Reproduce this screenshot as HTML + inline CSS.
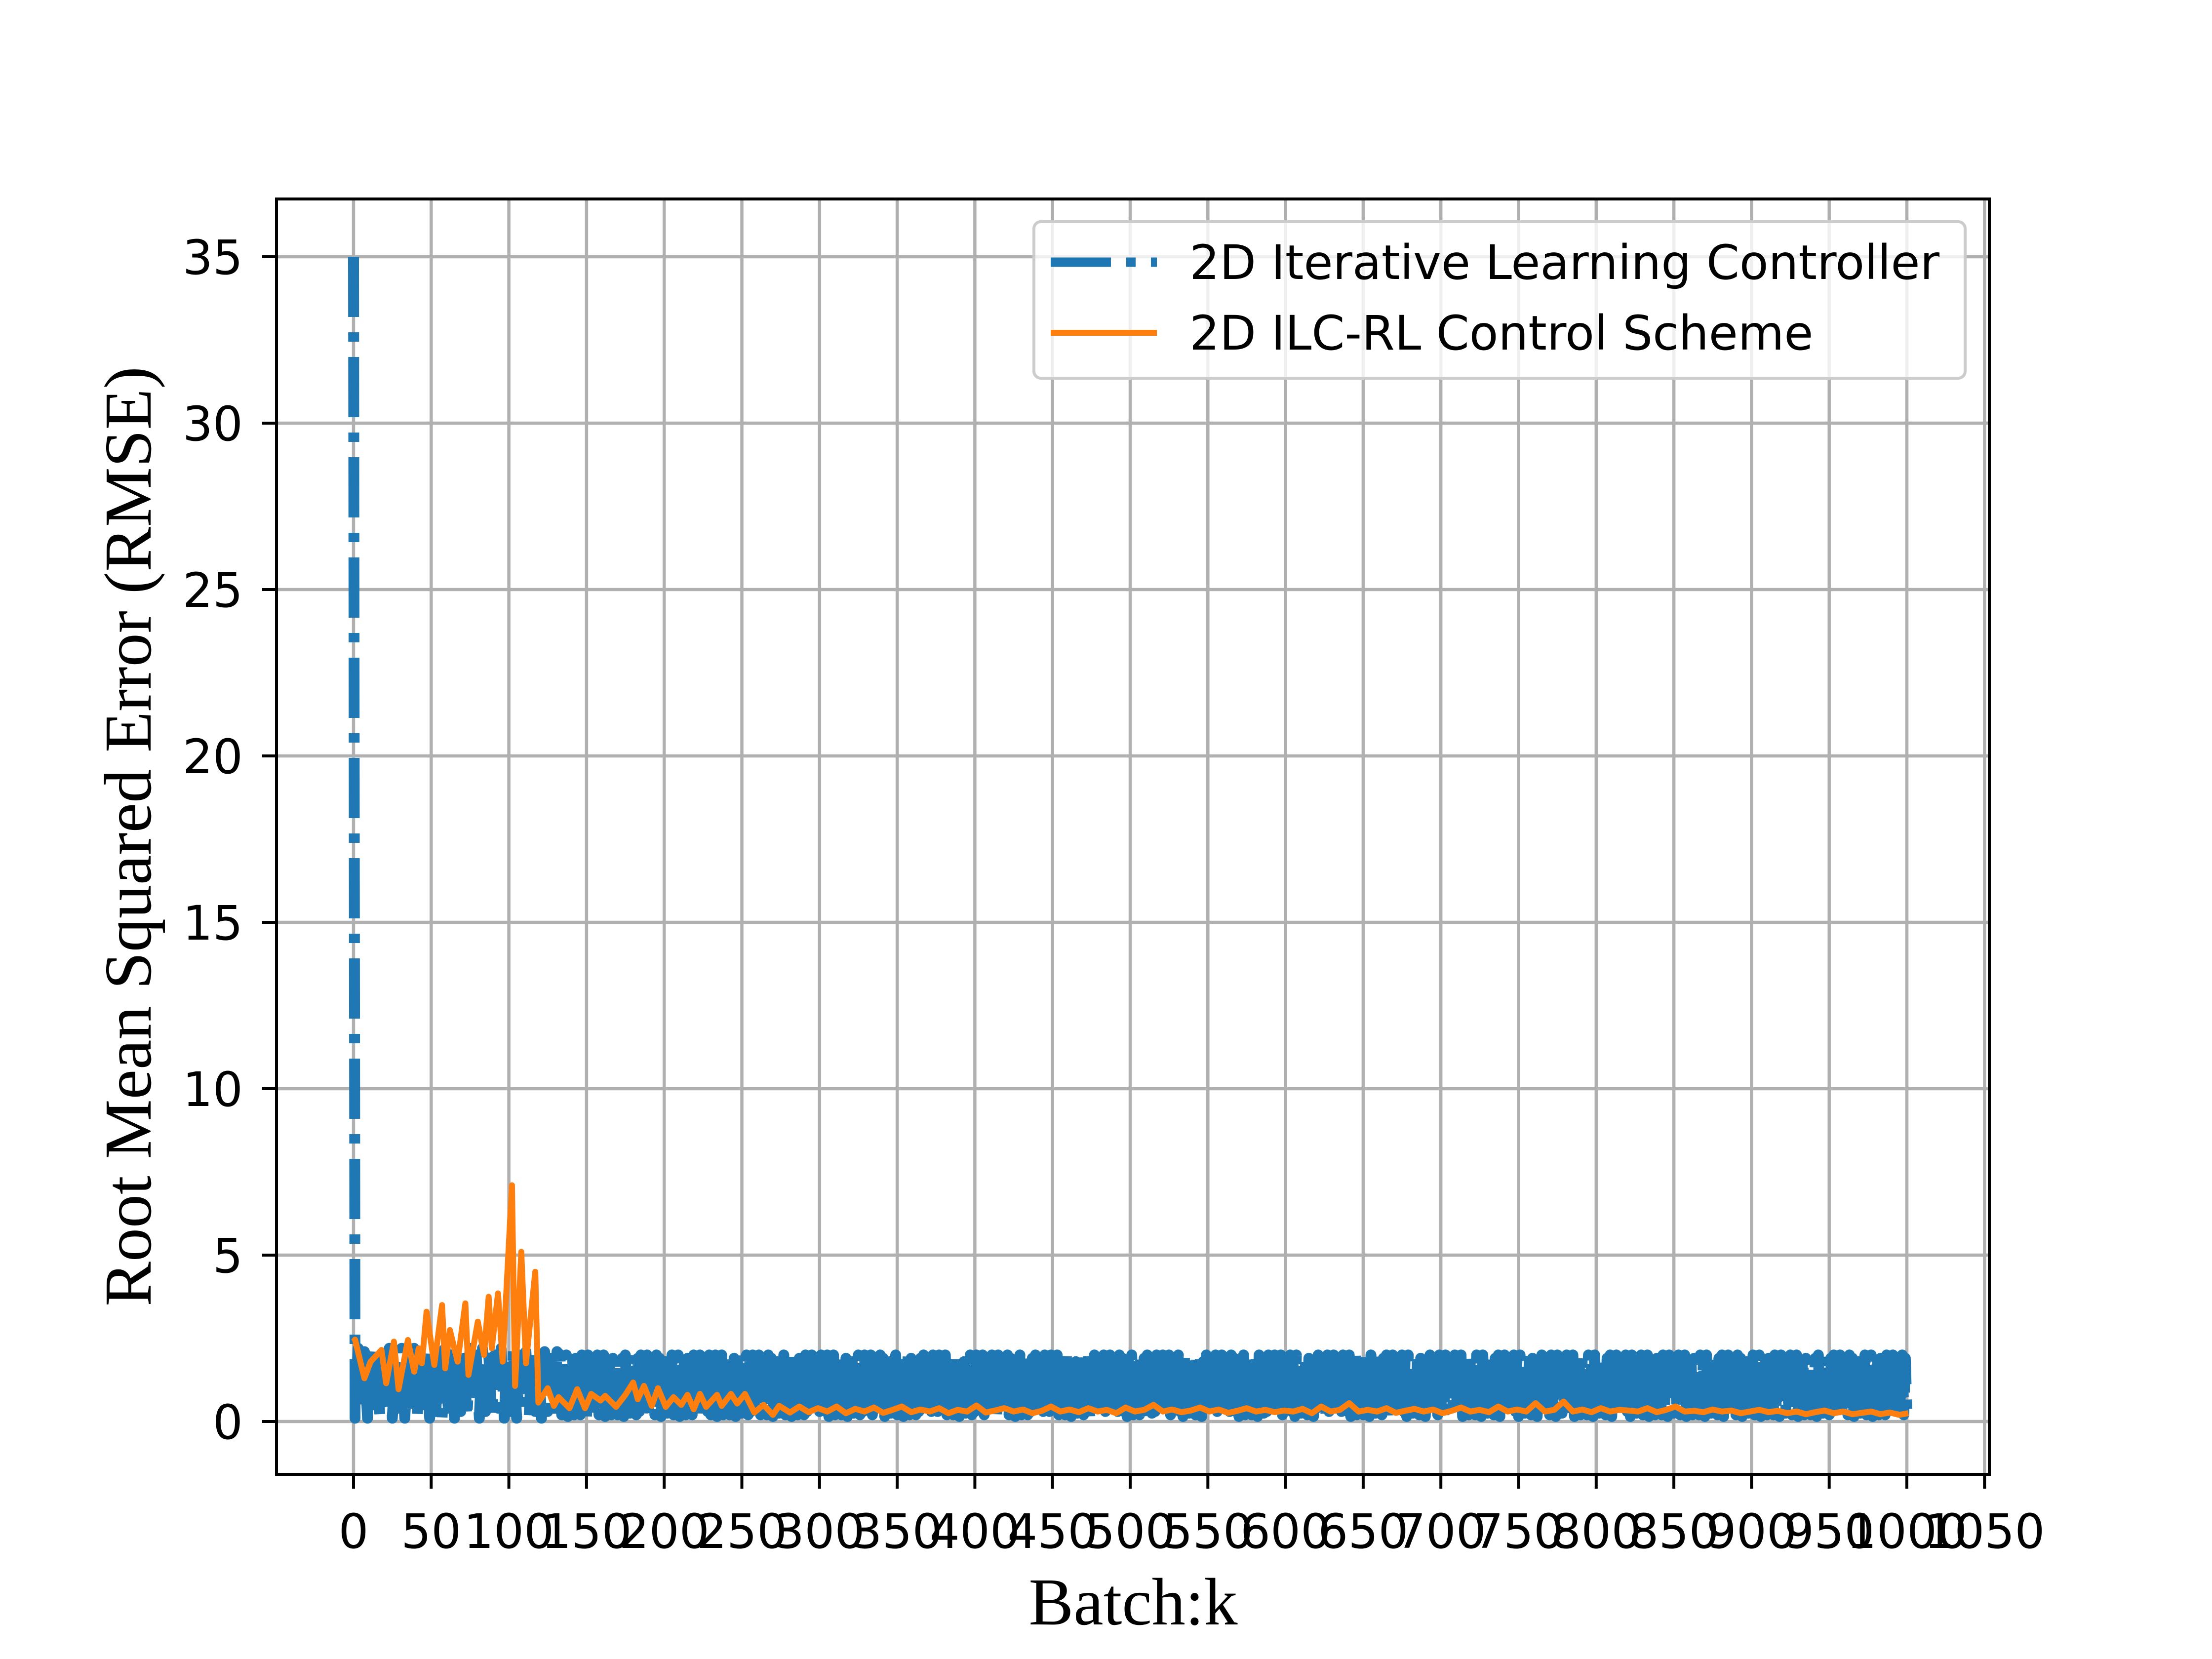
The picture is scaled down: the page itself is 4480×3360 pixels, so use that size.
<!DOCTYPE html>
<html><head><meta charset="utf-8"><style>
html,body{margin:0;padding:0;background:#fff;}
svg{display:block;}
</style></head><body>
<svg id="chart" width="4480" height="3360" viewBox="0 0 4480 3360" xmlns="http://www.w3.org/2000/svg">
<rect x="0" y="0" width="4480" height="3360" fill="#fff"/>
<g id="grid"></g>
<g id="plot" clip-path="url(#clip)"></g>
<clipPath id="clip"><rect x="560" y="403" width="3469" height="2583"/></clipPath>
<rect x="560" y="403" width="3469" height="2583" fill="none" stroke="#000" stroke-width="6"/>
<g id="ticks"></g>
<text x="2295" y="3290" text-anchor="middle" font-family="Liberation Serif, serif" font-size="136">Batch:k</text>
<text transform="translate(305,1694) rotate(-90)" text-anchor="middle" font-family="Liberation Serif, serif" font-size="136">Root Mean Squared Error (RMSE)</text>
<g>
<rect x="2094" y="449" width="1886" height="317" rx="14" fill="#fff" fill-opacity="0.8" stroke="#ccc" stroke-width="6"/>
<line x1="2128" y1="531" x2="2343" y2="531" stroke="#1f77b4" stroke-width="19" stroke-dasharray="122,31,19,31"/>
<text x="2409" y="565" font-family="DejaVu Sans, sans-serif" font-size="96">2D Iterative Learning Controller</text>
<line x1="2128" y1="674" x2="2343" y2="674" stroke="#ff7f0e" stroke-width="12"/>
<text x="2409" y="708" font-family="DejaVu Sans, sans-serif" font-size="96">2D ILC-RL Control Scheme</text>
</g>
</svg>
<script>
const xTicks=[0,50,100,150,200,250,300,350,400,450,500,550,600,650,700,750,800,850,900,950,1000,1050];
const yTicks=[0,5,10,15,20,25,30,35];
const blueX=[0,1,3,5,7,9,11,13,15,17,19,21,23,25,27,29,31,33,35,37,39,41,43,45,47,49,51,53,55,57,59,61,63,65,67,69,71,73,75,77,79,81,83,85,87,89,91,93,95,97,99,101,103,105,107,109,111,113,115,117,119,121,123,125,127,129,131];
const blueY=[35,0.1,2.2,0.3,2.1,0.1,2.2,0.5,2.1,0.1,1.8,0.3,2.2,0.1,2.0,0.4,2.2,0.1,1.9,0.3,2.2,0.1,2.0,0.5,2.2,0.1,1.9,0.3,2.1,0.1,2.2,0.4,2.0,0.1,2.2,0.3,1.9,0.1,2.2,0.5,2.0,0.1,2.2,0.3,2.1,0.1,2.0,0.4,2.2,0.1,1.9,0.3,2.2,0.1,2.0,0.4,2.1,0.1,2.2,0.3,2.0,0.1,2.1,0.3,1.9,0.2,2.1];
const blueCycleHigh=[2.0,1.9,2.0,1.8,2.0,1.9,1.7,2.0,1.9,2.0,1.8,1.6];
const blueCycleLow=[0.2,0.3,0.15,0.4,0.2,0.5,0.2,0.3,0.15,0.6,0.25,0.3];
const blueTailStart=133;
const blueTailEnd=1000;
const blueTailStep=1;
const orangeX=[0,1,7,11,18,21,26,29,35,39,42,44,47,52,57,59,62,67,72,74,80,84,87,89,93,96,102,104,108,111,117,119,125,129,132,139,144,149,153,159,162,169,175,180,183,187,192,196,201,206,211,215,219,223,227,234,237,243,247,252,258,264,270,274,281,287,293,299,305,311,317,323,329,335,341,347,353,359,365,371,377,383,389,395,401,407,413,419,425,431,437,443,449,455,461,467,473,479,485,491,497,503,509,515,521,527,533,539,545,551,557,563,569,575,581,587,593,599,605,611,617,623,629,635,641,647,653,659,665,671,677,683,689,695,701,707,713,719,725,731,737,743,749,755,761,767,773,779,785,791,797,803,809,815,821,827,833,839,845,851,857,863,869,875,881,887,893,899,905,911,917,923,929,935,941,947,953,959,965,971,977,983,989,995,1001];
const orangeY=[2.4,2.46,1.3,1.8,2.15,1.15,2.4,0.97,2.45,1.5,2.2,1.75,3.3,1.7,3.5,1.6,2.75,1.8,3.55,1.4,3.0,2.0,3.75,2.2,3.85,1.8,7.1,1.07,5.1,1.75,4.5,0.57,1.0,0.47,0.73,0.4,0.97,0.4,0.83,0.63,0.77,0.44,0.8,1.17,0.67,1.07,0.47,1.0,0.44,0.73,0.5,0.8,0.37,0.83,0.44,0.8,0.47,0.83,0.54,0.83,0.27,0.5,0.2,0.47,0.27,0.45,0.28,0.4,0.3,0.45,0.25,0.38,0.3,0.42,0.26,0.35,0.45,0.28,0.36,0.3,0.4,0.25,0.35,0.3,0.48,0.27,0.33,0.4,0.3,0.36,0.25,0.32,0.45,0.3,0.36,0.28,0.4,0.3,0.35,0.25,0.42,0.3,0.35,0.5,0.3,0.36,0.28,0.33,0.42,0.3,0.36,0.26,0.32,0.4,0.3,0.35,0.28,0.33,0.3,0.38,0.25,0.45,0.3,0.35,0.55,0.3,0.35,0.3,0.4,0.26,0.32,0.38,0.3,0.36,0.25,0.32,0.42,0.3,0.35,0.28,0.45,0.3,0.36,0.3,0.55,0.3,0.35,0.6,0.3,0.36,0.28,0.4,0.3,0.35,0.33,0.3,0.4,0.28,0.35,0.45,0.3,0.32,0.28,0.36,0.3,0.33,0.25,0.3,0.35,0.28,0.32,0.25,0.3,0.22,0.28,0.33,0.25,0.3,0.22,0.26,0.3,0.22,0.27,0.2,0.25,0.3,0.22,0.25];
const X0=716, XU=3.146, Y0=2879, YU=67.4;
function sx(v){return X0+v*XU;}
function sy(v){return Y0-v*YU;}
const NS='http://www.w3.org/2000/svg';
const grid=document.getElementById('grid'), ticks=document.getElementById('ticks'), plot=document.getElementById('plot');
function mk(tag,attrs,parent){const e=document.createElementNS(NS,tag);for(const k in attrs)e.setAttribute(k,attrs[k]);parent.appendChild(e);return e;}
xTicks.forEach(t=>{
  const x=sx(t);
  const g=mk('line',{x1:x,y1:403,x2:x,y2:2986,stroke:'#b0b0b0','stroke-width':6.5},grid);
  
  
  const tk=mk('line',{x1:x,y1:2986,x2:x,y2:3015,stroke:'#000','stroke-width':6},ticks);
  
  
  const tx=mk('text',{x:x,y:3135,'text-anchor':'middle','font-family':'DejaVu Sans, sans-serif','font-size':96},ticks);
  tx.textContent=t;
  
  
});
yTicks.forEach(t=>{
  const y=sy(t);
  const g=mk('line',{x1:560,y1:y,x2:4029,y2:y,stroke:'#b0b0b0','stroke-width':6.5},grid);
  
  
  const tk=mk('line',{x1:531,y1:y,x2:560,y2:y,stroke:'#000','stroke-width':6},ticks);
  
  
  const tx=mk('text',{x:492,y:y+35,'text-anchor':'end','font-family':'DejaVu Sans, sans-serif','font-size':96},ticks);
  tx.textContent=t;
  
  
});
let bp=[];
blueX.forEach((x,i)=>bp.push(sx(x).toFixed(1)+','+sy(blueY[i]).toFixed(1)));
let k=0;
for(let x=blueTailStart;x<=blueTailEnd;x+=2*blueTailStep){
  const h=blueCycleHigh[k%blueCycleHigh.length];
  const l=blueCycleLow[k%blueCycleLow.length];
  bp.push(sx(x).toFixed(1)+','+sy(h).toFixed(1));
  bp.push(sx(x+blueTailStep).toFixed(1)+','+sy(l).toFixed(1));
  k++;
}
const bl=mk('polyline',{points:bp.join(' '),fill:'none',stroke:'#1f77b4','stroke-width':22,'stroke-dasharray':'122,31,19,31','stroke-linejoin':'round'},plot);


const n=Math.min(orangeX.length,orangeY.length);
const op=orangeX.slice(0,n).map((x,i)=>sx(x).toFixed(1)+','+sy(orangeY[i]).toFixed(1)).join(' ');
const ol=mk('polyline',{points:op,fill:'none',stroke:'#ff7f0e','stroke-width':12,'stroke-linejoin':'round'},plot);


</script>
</body></html>
